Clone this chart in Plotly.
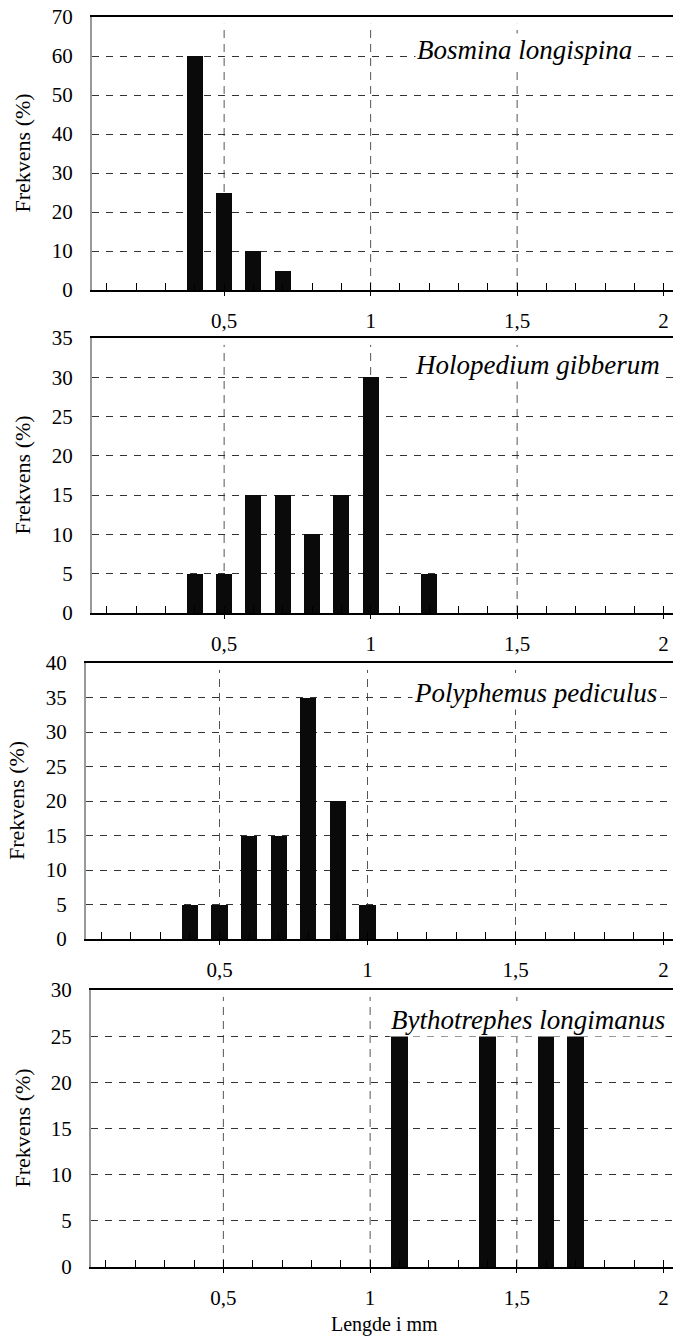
import plotly.graph_objects as go

# ---- data ----
lengths = [0.1, 0.2, 0.3, 0.4, 0.5, 0.6, 0.7, 0.8, 0.9, 1.0,
           1.1, 1.2, 1.3, 1.4, 1.5, 1.6, 1.7, 1.8, 1.9, 2.0]
bosmina = [0, 0, 0, 60, 25, 10, 5, 0, 0, 0, 0, 0, 0, 0, 0, 0, 0, 0, 0, 0]
holopedium = [0, 0, 0, 5, 5, 15, 15, 10, 15, 30, 0, 5, 0, 0, 0, 0, 0, 0, 0, 0]
polyphemus = [0, 0, 0, 5, 5, 15, 15, 35, 20, 5, 0, 0, 0, 0, 0, 0, 0, 0, 0, 0]
bythotrephes = [0, 0, 0, 0, 0, 0, 0, 0, 0, 0, 25, 0, 0, 25, 0, 25, 25, 0, 0, 0]
species = ["Bosmina longispina", "Holopedium gibberum",
           "Polyphemus pediculus", "Bythotrephes longimanus"]
series = [bosmina, holopedium, polyphemus, bythotrephes]
y_max = [70, 35, 40, 30]
y_step = [10, 5, 5, 5]
x_tickvals = [0.5, 1.0, 1.5, 2.0]
x_ticktext = ["0,5", "1", "1,5", "2"]
x_gridvals = [0.5, 1.0, 1.5]
y_title = "Frekvens (%)"
x_title = "Lengde i mm"

# ---- layout geometry (pixels of a 673x1338 page) ----
W, H = 673, 1338
panel_px = [(17, 290, 92), (338, 613, 92), (663, 939, 86), (990, 1267, 91)]  # top, bottom, left
label_right = [634, 662, 659, 667]
label_yc = [50, 365, 693, 1020]
ytitle_x = [22, 22, 17, 22]

SERIF = "Liberation Serif"

fig = go.Figure()
layout = dict(
    template="none",
    width=W, height=H, margin=dict(l=0, r=0, t=0, b=0, pad=0, autoexpand=False),
    paper_bgcolor="white", plot_bgcolor="white", showlegend=False,
    font=dict(family=SERIF, size=21, color="black"),
    bargap=0, annotations=[], shapes=[],
)

for i, (name, vals) in enumerate(zip(species, series)):
    n = "" if i == 0 else str(i + 1)
    top, bot, left = panel_px[i]
    fig.add_trace(go.Bar(x=lengths, y=vals, width=0.055, marker_color="#0a0a0a",
                         marker_line_width=0, xaxis="x" + n, yaxis="y" + n))
    layout["xaxis" + n] = dict(
        domain=[left / W, 1], anchor="y" + n, range=[0.049, 2.032],
        automargin=False, ticklabeloverflow="allow",
        tickmode="array", tickvals=x_tickvals, ticktext=x_ticktext,
        ticks="outside", ticklen=4, tickwidth=1, tickcolor="black",
        ticklabelstandoff=7, showgrid=False, zeroline=False,
        showline=True, linecolor="black", linewidth=1.8, mirror=True,
        tickfont=dict(size=21, family=SERIF, color="black"),
        minor=dict(tickmode="array", tickvals=lengths, ticks="inside",
                   ticklen=7, tickwidth=1, tickcolor="black", showgrid=False),
    )
    layout["yaxis" + n] = dict(
        domain=[1 - bot / H, 1 - top / H], anchor="x" + n,
        automargin=False,
        range=[0, y_max[i]], dtick=y_step[i], tick0=0, ticks="",
        ticklabelstandoff=13, showgrid=True, gridcolor="#333333", gridwidth=1,
        griddash="7px,7px", zeroline=False, showline=True,
        linecolor="#999999", linewidth=2,
        tickfont=dict(size=21, family=SERIF, color="black"),
    )
    for gx in x_gridvals:
        layout["shapes"].append(dict(
            type="line", xref="x" + n, yref="y" + n + " domain",
            x0=gx, x1=gx, y0=0, y1=0.975,
            line=dict(color="#555555", width=1, dash="8px,6px"), layer="below"))
    layout["annotations"].append(dict(
        text="<i>" + name + "</i>", xref="paper", yref="paper",
        x=label_right[i] / W, y=1 - label_yc[i] / H, xanchor="right", yanchor="middle",
        showarrow=False, bgcolor="white", borderpad=1,
        font=dict(size=27, family=SERIF, color="black")))
    layout["annotations"].append(dict(
        text=y_title, xref="paper", yref="paper", textangle=-90,
        x=ytitle_x[i] / W, y=1 - (top + bot) / 2 / H, xanchor="center", yanchor="middle",
        showarrow=False, font=dict(size=22, family=SERIF, color="black")))

layout["annotations"].append(dict(
    text=x_title, xref="paper", yref="paper", x=384 / W, y=1 - 1324 / H,
    xanchor="center", yanchor="middle", showarrow=False,
    font=dict(size=20, family=SERIF, color="black")))

fig.update_layout(**layout)
fig.write_html("out.html", config={"displayModeBar": False},
               post_script="document.body.style.margin='0';document.body.style.overflow='hidden';")
